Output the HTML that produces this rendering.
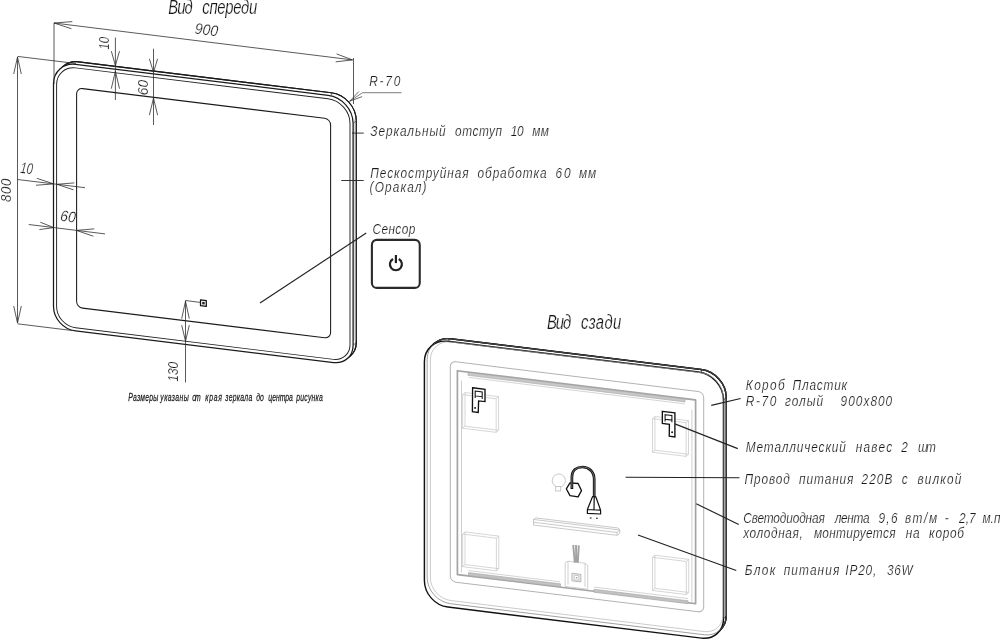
<!DOCTYPE html>
<html><head><meta charset="utf-8"><title>Mirror drawing</title>
<style>
html,body{margin:0;padding:0;background:#fff;}
body{width:1000px;height:640px;overflow:hidden;}
svg{display:block;will-change:transform;filter:grayscale(1);}
text{font-family:"Liberation Sans",sans-serif;font-style:italic;}
</style></head><body>
<svg width="1000" height="640" viewBox="0 0 1000 640">
<rect width="1000" height="640" fill="#fff"/>
<g transform="matrix(1 0.1225 0 1 0 0)" fill="none" stroke-linejoin="round">
<path d="M78.65 52.20H331.25A25 25 0 0 1 356.25 77.20V299.10A19.5 19.5 0 0 1 336.75 318.60H78.65A22 22 0 0 1 56.65 296.60V74.20A22 22 0 0 1 78.65 52.20Z" fill="#fff" stroke="#1a1a1a" stroke-width="1.15"/>
<rect x="353.1" y="76" width="3.15" height="221" fill="#dcdcdc" stroke="none"/>
<path d="M78.65 52.20H331.25A25 25 0 0 1 356.25 77.20V299.10A19.5 19.5 0 0 1 336.75 318.60H78.65A22 22 0 0 1 56.65 296.60V74.20A22 22 0 0 1 78.65 52.20Z" stroke="#1a1a1a" stroke-width="1.15"/>
<path d="M75.50 55.10H328.10A25 25 0 0 1 353.10 80.10V302.20A19.5 19.5 0 0 1 333.60 321.70H75.50A22 22 0 0 1 53.50 299.70V77.10A22 22 0 0 1 75.50 55.10Z" fill="#fff" stroke="#1a1a1a" stroke-width="1.25"/>
<path d="M331.3 52.2L331.3 55.1M353.1 80.1L356.25 77.2M353.1 302L356.25 299" stroke="#333" stroke-width="0.7"/>
<path d="M75.60 58.60H328.00A22 22 0 0 1 350.00 80.60V302.00A16.5 16.5 0 0 1 333.50 318.50H75.60A19 19 0 0 1 56.60 299.50V77.60A19 19 0 0 1 75.60 58.60Z" stroke="#222" stroke-width="0.95"/>
<path d="M82.60 78.50H324.60A6 6 0 0 1 330.60 84.50V292.00A6 6 0 0 1 324.60 298.00H82.60A6 6 0 0 1 76.60 292.00V84.50A6 6 0 0 1 82.60 78.50Z" stroke="#1a1a1a" stroke-width="1.05"/>
</g>
<line x1="54" y1="23" x2="54" y2="84" stroke="#303030" stroke-width="0.8"/>
<line x1="353.5" y1="58" x2="353.5" y2="104" stroke="#303030" stroke-width="0.8"/>
<line x1="54" y1="23" x2="352.5" y2="59.9" stroke="#303030" stroke-width="0.8"/>
<path d="M72.30 21.62L54.00 23.00L71.43 28.76" fill="none" stroke="#303030" stroke-width="0.8"/>
<path d="M335.64 61.86L352.50 59.90L336.61 53.92" fill="none" stroke="#303030" stroke-width="0.8"/>
<text transform="translate(194.3 33.6) rotate(7) scale(0.9 1)" font-size="15.4" fill="#161616" stroke="#fff" stroke-width="0.22" textLength="25.78" lengthAdjust="spacing">900</text>
<line x1="17.5" y1="57" x2="17.5" y2="323" stroke="#303030" stroke-width="0.8"/>
<line x1="17.5" y1="56.4" x2="76" y2="63.5" stroke="#303030" stroke-width="0.8"/>
<line x1="17.5" y1="323.8" x2="72" y2="330.5" stroke="#303030" stroke-width="0.8"/>
<path d="M21.30 74.00L17.50 57.00L13.70 74.00" fill="none" stroke="#303030" stroke-width="0.8"/>
<path d="M13.70 306.00L17.50 323.00L21.30 306.00" fill="none" stroke="#303030" stroke-width="0.8"/>
<text transform="translate(11.2 201.9) rotate(-90) scale(0.86 1)" font-size="15.4" fill="#161616" stroke="#fff" stroke-width="0.22" textLength="26.98" lengthAdjust="spacing">800</text>
<line x1="115.4" y1="37.5" x2="115.4" y2="100" stroke="#303030" stroke-width="0.8"/>
<path d="M111.30 51.10L115.40 65.60L119.50 51.10" fill="none" stroke="#303030" stroke-width="0.8"/>
<path d="M119.50 88.70L115.40 71.20L111.30 88.70" fill="none" stroke="#303030" stroke-width="0.8"/>
<text transform="translate(108.7 49.6) rotate(-90) scale(0.74 1)" font-size="15.4" fill="#161616" stroke="#fff" stroke-width="0.22">10</text>
<line x1="153.5" y1="48.75" x2="153.5" y2="125" stroke="#303030" stroke-width="0.8"/>
<path d="M149.40 58.80L153.50 72.30L157.60 58.80" fill="none" stroke="#303030" stroke-width="0.8"/>
<path d="M157.60 115.10L153.50 98.10L149.40 115.10" fill="none" stroke="#303030" stroke-width="0.8"/>
<text transform="translate(147.6 95.3) rotate(-90) scale(0.9 1)" font-size="15.4" fill="#161616" stroke="#fff" stroke-width="0.22" textLength="17.22" lengthAdjust="spacing">60</text>
<line x1="17.5" y1="179.5" x2="85" y2="187.7" stroke="#303030" stroke-width="0.8"/>
<path d="M35.95 185.25L53.75 183.90L36.81 178.30" fill="none" stroke="#303030" stroke-width="0.8"/>
<path d="M74.30 182.89L57.00 184.30L73.45 189.84" fill="none" stroke="#303030" stroke-width="0.8"/>
<text transform="translate(19.8 172.7) rotate(7) scale(0.74 1)" font-size="15.4" fill="#161616" stroke="#fff" stroke-width="0.22">10</text>
<line x1="28.75" y1="224.5" x2="105" y2="233.9" stroke="#303030" stroke-width="0.8"/>
<path d="M39.40 229.57L53.75 227.60L40.30 222.23" fill="none" stroke="#303030" stroke-width="0.8"/>
<path d="M94.22 228.86L76.40 230.40L93.32 236.20" fill="none" stroke="#303030" stroke-width="0.8"/>
<text transform="translate(59.8 220.8) rotate(7) scale(0.9 1)" font-size="15.4" fill="#161616" stroke="#fff" stroke-width="0.22" textLength="17.22" lengthAdjust="spacing">60</text>
<line x1="185.5" y1="300.5" x2="185.5" y2="382.5" stroke="#303030" stroke-width="0.8"/>
<line x1="185.5" y1="300.5" x2="200" y2="302.4" stroke="#303030" stroke-width="0.8"/>
<path d="M200.5 299.9L206.3 300.6V306.4L200.5 305.7Z" fill="#fff" stroke="#111" stroke-width="1.25" stroke-linejoin="round"/>
<rect x="202.2" y="301.9" width="2.5" height="2.5" fill="#222"/>
<path d="M189.30 318.70L185.50 301.20L181.70 318.70" fill="none" stroke="#303030" stroke-width="0.8"/>
<path d="M181.70 325.20L185.50 341.20L189.30 325.20" fill="none" stroke="#303030" stroke-width="0.8"/>
<text transform="translate(178 381.6) rotate(-90) scale(0.77 1)" font-size="15.4" fill="#161616" stroke="#fff" stroke-width="0.22">130</text>
<text transform="translate(128.3 400.8) scale(0.6 1)" font-size="11.4" fill="#1c1c1c" stroke="#1c1c1c" stroke-width="0.25" textLength="50.00" lengthAdjust="spacing">Размеры</text><text transform="translate(160.3 400.8) scale(0.6 1)" font-size="11.4" fill="#1c1c1c" stroke="#1c1c1c" stroke-width="0.25" textLength="47.50" lengthAdjust="spacing">указаны</text><text transform="translate(192.3 400.8) scale(0.6 1)" font-size="11.4" fill="#1c1c1c" stroke="#1c1c1c" stroke-width="0.25" textLength="14.17" lengthAdjust="spacing">от</text><text transform="translate(205.3 400.8) scale(0.6 1)" font-size="11.4" fill="#1c1c1c" stroke="#1c1c1c" stroke-width="0.25" textLength="27.50" lengthAdjust="spacing">края</text><text transform="translate(225.3 400.8) scale(0.6 1)" font-size="11.4" fill="#1c1c1c" stroke="#1c1c1c" stroke-width="0.25" textLength="45.00" lengthAdjust="spacing">зеркала</text><text transform="translate(256.3 400.8) scale(0.6 1)" font-size="11.4" fill="#1c1c1c" stroke="#1c1c1c" stroke-width="0.25" textLength="12.50" lengthAdjust="spacing">до</text><text transform="translate(268.3 400.8) scale(0.6 1)" font-size="11.4" fill="#1c1c1c" stroke="#1c1c1c" stroke-width="0.25" textLength="40.83" lengthAdjust="spacing">центра</text><text transform="translate(296.3 400.8) scale(0.6 1)" font-size="11.4" fill="#1c1c1c" stroke="#1c1c1c" stroke-width="0.25" textLength="44.17" lengthAdjust="spacing">рисунка</text>
<line x1="362.5" y1="92.7" x2="401.5" y2="92.7" stroke="#444" stroke-width="0.7"/>
<line x1="362.5" y1="92.7" x2="349.6" y2="101.3" stroke="#444" stroke-width="0.7"/>
<path d="M358.79 91.63L349.60 101.30L362.10 96.63" fill="none" stroke="#444" stroke-width="0.8"/>
<line x1="352" y1="133.1" x2="363.75" y2="133.1" stroke="#222" stroke-width="0.9"/>
<line x1="341.25" y1="180.5" x2="363.75" y2="180.5" stroke="#222" stroke-width="0.9"/>
<line x1="366.25" y1="233" x2="260" y2="303" stroke="#222" stroke-width="1.15"/>
<rect x="371.9" y="239.9" width="47.85" height="48" rx="5" fill="#fff" stroke="#2a2a2a" stroke-width="2.1"/>
<path d="M393.0 259.0 A6 6 0 1 0 398.8 259.0" fill="none" stroke="#222" stroke-width="2.2"/>
<line x1="395.9" y1="255" x2="395.9" y2="263.1" stroke="#222" stroke-width="2.2"/>
<text transform="translate(168.3 13.8) scale(0.72 1)" font-size="20.6" fill="#161616" stroke="#fff" stroke-width="0.22" textLength="33.89" lengthAdjust="spacing">Вид</text><text transform="translate(202.3 13.8) scale(0.72 1)" font-size="20.6" fill="#161616" stroke="#fff" stroke-width="0.22" textLength="76.39" lengthAdjust="spacing">спереди</text>
<text transform="translate(369.3 85.5) scale(0.78 1)" font-size="15.2" fill="#161616" stroke="#fff" stroke-width="0.22" textLength="39.74" lengthAdjust="spacing">R-70</text>
<text transform="translate(370.3 136.20000000000002) scale(0.78 1)" font-size="15.2" fill="#161616" stroke="#fff" stroke-width="0.22" textLength="96.67" lengthAdjust="spacing">Зеркальный</text><text transform="translate(455.0 136.20000000000002) scale(0.78 1)" font-size="15.2" fill="#161616" stroke="#fff" stroke-width="0.22" textLength="60.38" lengthAdjust="spacing">отступ</text><text transform="translate(510.7 136.20000000000002) scale(0.78 1)" font-size="15.2" fill="#161616" stroke="#fff" stroke-width="0.22" textLength="16.67" lengthAdjust="spacing">10</text><text transform="translate(532.3 136.20000000000002) scale(0.78 1)" font-size="15.2" fill="#161616" stroke="#fff" stroke-width="0.22" textLength="21.28" lengthAdjust="spacing">мм</text>
<text transform="translate(370.3 178.0) scale(0.78 1)" font-size="15.2" fill="#161616" stroke="#fff" stroke-width="0.22" textLength="125.90" lengthAdjust="spacing">Пескоструйная</text><text transform="translate(477.6 178.0) scale(0.78 1)" font-size="15.2" fill="#161616" stroke="#fff" stroke-width="0.22" textLength="88.33" lengthAdjust="spacing">обработка</text><text transform="translate(555.6 178.0) scale(0.78 1)" font-size="15.2" fill="#161616" stroke="#fff" stroke-width="0.22" textLength="19.10" lengthAdjust="spacing">60</text><text transform="translate(579.1 178.0) scale(0.78 1)" font-size="15.2" fill="#161616" stroke="#fff" stroke-width="0.22" textLength="21.92" lengthAdjust="spacing">мм</text>
<text transform="translate(369.6 192.0) scale(0.78 1)" font-size="15.2" fill="#161616" stroke="#fff" stroke-width="0.22" textLength="72.95" lengthAdjust="spacing">(Оракал)</text>
<text transform="translate(372.4 233.55) scale(0.78 1)" font-size="15.2" fill="#161616" stroke="#fff" stroke-width="0.22" textLength="55.00" lengthAdjust="spacing">Сенсор</text>
<g transform="matrix(1 0.1225 0 1 0 0)" fill="none" stroke-linejoin="round">
<path d="M450.65 283.60H701.25A25 25 0 0 1 726.25 308.60V526.50A22 22 0 0 1 704.25 548.50H450.65A23.5 23.5 0 0 1 427.15 525.00V307.10A23.5 23.5 0 0 1 450.65 283.60Z" fill="#fff" stroke="#111" stroke-width="1.45"/>
<rect x="723.5" y="309" width="2.75" height="218" fill="#d4d4d4" stroke="none"/>
<path d="M450.65 283.60H701.25A25 25 0 0 1 726.25 308.60V526.50A22 22 0 0 1 704.25 548.50H450.65A23.5 23.5 0 0 1 427.15 525.00V307.10A23.5 23.5 0 0 1 450.65 283.60Z" stroke="#111" stroke-width="1.45"/>
<path d="M447.90 286.45H698.50A25 25 0 0 1 723.50 311.45V530.20A22 22 0 0 1 701.50 552.20H447.90A23.5 23.5 0 0 1 424.40 528.70V309.95A23.5 23.5 0 0 1 447.90 286.45Z" fill="#fff" stroke="#111" stroke-width="1.45"/>
<path d="M450.65 283.60H701.25A25 25 0 0 1 726.25 308.60V526.50A22 22 0 0 1 704.25 548.50H450.65A23.5 23.5 0 0 1 427.15 525.00V307.10A23.5 23.5 0 0 1 450.65 283.60Z" stroke="#666" stroke-width="0.6"/>
<path d="M450.70 286.80H701.10A22 22 0 0 1 723.10 308.80V526.30A19 19 0 0 1 704.10 545.30H450.70A20.3 20.3 0 0 1 430.40 525.00V307.10A20.3 20.3 0 0 1 450.70 286.80Z" stroke="#aaa" stroke-width="0.6"/>
<path d="M449 283.6L449 286.45M701.3 283.6L701.3 286.45M723.5 311.5L726.25 308.5M723.5 530L726.25 527" stroke="#222" stroke-width="0.7"/>
<path d="M455.80 305.90H698.20A5.5 5.5 0 0 1 703.70 311.40V520.80A5.5 5.5 0 0 1 698.20 526.30H455.80A5.5 5.5 0 0 1 450.30 520.80V311.40A5.5 5.5 0 0 1 455.80 305.90Z" stroke="#b2b2b2" stroke-width="1.0"/>
<rect x="457.4" y="314.7" width="238.2" height="203.8" stroke="#a4a4a4" stroke-width="1.7"/>
<path d="M461.5 324V516M691.9 325V517" stroke="#c4c4c4" stroke-width="0.8"/>
<rect x="468" y="315.2" width="217" height="2.8" fill="#c9c9c9" stroke="#a6a6a6" stroke-width="0.6"/>
<path d="M469 320H685" stroke="#c4c4c4" stroke-width="0.7"/>
<rect x="468.5" y="515.2" width="92" height="3" fill="#c2c2c2" stroke="#a6a6a6" stroke-width="0.6"/>
<rect x="594" y="516.5" width="94" height="3" fill="#c2c2c2" stroke="#a6a6a6" stroke-width="0.6"/>
<path d="M468.5 513.2H560M594 514.3H688" stroke="#c4c4c4" stroke-width="0.7"/>
<path d="M462.6 338.0h33.6v33.6h-33.6z M465.0 335.6h33.6v33.6h-33.6z M462.6 338.0l2.4 -2.4M496.20000000000005 338.0l2.4 -2.4M496.20000000000005 371.6l2.4 -2.4M462.6 371.6l2.4 -2.4" stroke="#c6c6c6" stroke-width="0.7"/>
<path d="M652.5 338.7h33.6v33.6h-33.6z M654.9 336.3h33.6v33.6h-33.6z M652.5 338.7l2.4 -2.4M686.1 338.7l2.4 -2.4M686.1 372.3l2.4 -2.4M652.5 372.3l2.4 -2.4" stroke="#c6c6c6" stroke-width="0.7"/>
<path d="M462.6 477.4h33.800000000000004v32.6h-33.800000000000004z M465.0 475.0h33.800000000000004v32.6h-33.800000000000004z M462.6 477.4l2.4 -2.4M496.40000000000003 477.4l2.4 -2.4M496.40000000000003 510.0l2.4 -2.4M462.6 510.0l2.4 -2.4" stroke="#c6c6c6" stroke-width="0.7"/>
<path d="M652.5 477.4h33.800000000000004v33.1h-33.800000000000004z M654.9 475.0h33.800000000000004v33.1h-33.800000000000004z M652.5 477.4l2.4 -2.4M686.3000000000001 477.4l2.4 -2.4M686.3000000000001 510.5l2.4 -2.4M652.5 510.5l2.4 -2.4" stroke="#c6c6c6" stroke-width="0.7"/>
<path d="M533.5 454.1H619.8V457.5L617 459.7H533.5Z M533.5 454.1L535.8 452.3H618.2L619.8 454.1 M533.5 456.9H617V459.7 M617 456.9L619.8 454.1" stroke="#b4b4b4" stroke-width="0.7" fill="#fff"/>
<path d="M565.2 493.6L568 491.6H585L587.7 493.6V517.2H565.2Z M568 491.6V515 M585 491.6V515" stroke="#bdbdbd" stroke-width="0.7" fill="#fff"/>
<rect x="571.9" y="503.2" width="9" height="7.6" stroke="#aaa" stroke-width="0.8" fill="#eee"/>
<rect x="574.2" y="504.8" width="4.6" height="4.6" stroke="#aaa" stroke-width="0.6" fill="#fff"/>
<rect x="575.9" y="506.4" width="1.3" height="1.3" fill="#999"/>
</g>
<path d="M573.2 545L574.8 562.6M576 545L576.3 562.6M578.8 545.4L577.8 562.6" stroke="#a2a2a2" stroke-width="1.9" fill="none"/>
<circle cx="558.8" cy="480.6" r="6.6" fill="#fff" stroke="#bbb" stroke-width="0.8"/>
<rect x="555.7" y="486.4" width="5" height="4.6" fill="#fff" stroke="#bbb" stroke-width="0.8"/>
<path d="M566.3 488.8L570 482.8L578.1 483.5L581.5 490.6L578.1 496.9L570 495.6Z" fill="none" stroke="#111" stroke-width="1.3" stroke-linejoin="round"/>
<path d="M571.9 489V477C571.9 470 577 467 582.5 467C589 467 594 471.5 594.2 479V497" fill="none" stroke="#111" stroke-width="2.7" stroke-linecap="butt"/>
<path d="M571.9 488V477C571.9 470 577 467 582.5 467C589 467 594 471.5 594.2 479V497" fill="none" stroke="#777" stroke-width="0.9"/>
<path d="M592.6 496.5L587.4 509.5V513.4L600.6 514V510.2L595.8 496.8Z M587.4 509.5L600.6 510.2 M594.2 497L594 509.8" fill="none" stroke="#111" stroke-width="1.2" stroke-linejoin="round"/>
<path d="M589.8 518h1.8M596 518.2h1.8" stroke="#111" stroke-width="1.1"/>
<path d="M472.6 387.75L485 389.25L485 401.6L478.6 400.9L478.25 412.5L472.4 411.6Z" fill="#fff" stroke="#111" stroke-width="1.35" stroke-linejoin="miter"/><path d="M475.2 391.1L482.2 391.96L482.2 396.76L475.2 395.9Z M475.2 395.9v2.2 M482.2 396.76v2.2" fill="#fff" stroke="#111" stroke-width="1.05"/><circle cx="475.1" cy="407.9" r="0.95" fill="#111"/>
<path d="M662.35 411.35L674.9 412.85L674.9 437L669.25 436.25L669.4 424.25L662.35 423.5Z" fill="#fff" stroke="#111" stroke-width="1.35" stroke-linejoin="miter"/><path d="M665.1 414.65L671.9 415.48L671.9 420.13L665.1 419.3Z M665.1 419.3v2.2 M671.9 420.13v2.2" fill="#fff" stroke="#111" stroke-width="1.05"/><circle cx="672.1" cy="432.3" r="0.95" fill="#111"/>
<line x1="711.25" y1="405.4" x2="740.6" y2="398.5" stroke="#222" stroke-width="1.15"/>
<line x1="674.9" y1="423.9" x2="737.8" y2="448.6" stroke="#222" stroke-width="1.15"/>
<line x1="625.6" y1="477.2" x2="739.5" y2="477.8" stroke="#222" stroke-width="1.15"/>
<line x1="696.25" y1="503.75" x2="738.75" y2="524.5" stroke="#222" stroke-width="1.15"/>
<line x1="638" y1="535" x2="736.25" y2="570.5" stroke="#222" stroke-width="1.15"/>
<text transform="translate(546.9 328.8) scale(0.72 1)" font-size="20.6" fill="#161616" stroke="#fff" stroke-width="0.22" textLength="33.89" lengthAdjust="spacing">Вид</text><text transform="translate(580.9 328.8) scale(0.72 1)" font-size="20.6" fill="#161616" stroke="#fff" stroke-width="0.22" textLength="56.11" lengthAdjust="spacing">сзади</text>
<text transform="translate(745.8 390.40000000000003) scale(0.78 1)" font-size="15.2" fill="#161616" stroke="#fff" stroke-width="0.22" textLength="49.87" lengthAdjust="spacing">Короб</text><text transform="translate(792.6 390.40000000000003) scale(0.78 1)" font-size="15.2" fill="#161616" stroke="#fff" stroke-width="0.22" textLength="69.87" lengthAdjust="spacing">Пластик</text>
<text transform="translate(745.8 405.7) scale(0.78 1)" font-size="15.2" fill="#161616" stroke="#fff" stroke-width="0.22" textLength="39.10" lengthAdjust="spacing">R-70</text><text transform="translate(784.9 405.7) scale(0.78 1)" font-size="15.2" fill="#161616" stroke="#fff" stroke-width="0.22" textLength="48.97" lengthAdjust="spacing">голый</text><text transform="translate(840.6 405.7) scale(0.78 1)" font-size="15.2" fill="#161616" stroke="#fff" stroke-width="0.22" textLength="66.15" lengthAdjust="spacing">900x800</text>
<text transform="translate(745.8 452.3) scale(0.78 1)" font-size="15.2" fill="#161616" stroke="#fff" stroke-width="0.22" textLength="128.33" lengthAdjust="spacing">Металлический</text><text transform="translate(855.7 452.3) scale(0.78 1)" font-size="15.2" fill="#161616" stroke="#fff" stroke-width="0.22" textLength="46.79" lengthAdjust="spacing">навес</text><text transform="translate(901.3 452.3) scale(0.78 1)" font-size="15.2" fill="#161616" stroke="#fff" stroke-width="0.22" textLength="10.51" lengthAdjust="spacing">2</text><text transform="translate(918.1 452.3) scale(0.78 1)" font-size="15.2" fill="#161616" stroke="#fff" stroke-width="0.22" textLength="22.82" lengthAdjust="spacing">шт</text>
<text transform="translate(744.5 484.2) scale(0.78 1)" font-size="15.2" fill="#161616" stroke="#fff" stroke-width="0.22" textLength="57.95" lengthAdjust="spacing">Провод</text><text transform="translate(799.1 484.2) scale(0.78 1)" font-size="15.2" fill="#161616" stroke="#fff" stroke-width="0.22" textLength="69.62" lengthAdjust="spacing">питания</text><text transform="translate(861.5 484.2) scale(0.78 1)" font-size="15.2" fill="#161616" stroke="#fff" stroke-width="0.22" textLength="39.62" lengthAdjust="spacing">220В</text><text transform="translate(901.8 484.2) scale(0.78 1)" font-size="15.2" fill="#161616" stroke="#fff" stroke-width="0.22" textLength="7.95" lengthAdjust="spacing">с</text><text transform="translate(917.4 484.2) scale(0.78 1)" font-size="15.2" fill="#161616" stroke="#fff" stroke-width="0.22" textLength="56.28" lengthAdjust="spacing">вилкой</text>
<text transform="translate(743.2 523.4) scale(0.78 1)" font-size="15.2" fill="#161616" stroke="#fff" stroke-width="0.22" textLength="104.62" lengthAdjust="spacing">Светодиодная</text><text transform="translate(834.7 523.4) scale(0.78 1)" font-size="15.2" fill="#161616" stroke="#fff" stroke-width="0.22" textLength="44.62" lengthAdjust="spacing">лента</text><text transform="translate(878.4 523.4) scale(0.78 1)" font-size="15.2" fill="#161616" stroke="#fff" stroke-width="0.22" textLength="24.62" lengthAdjust="spacing">9,6</text><text transform="translate(904.9 523.4) scale(0.78 1)" font-size="15.2" fill="#161616" stroke="#fff" stroke-width="0.22" textLength="41.28" lengthAdjust="spacing">вт/м</text><text transform="translate(944.7 523.4) scale(0.78 1)" font-size="15.2" fill="#161616" stroke="#fff" stroke-width="0.22" textLength="7.95" lengthAdjust="spacing">-</text><text transform="translate(959.0 523.4) scale(0.78 1)" font-size="15.2" fill="#161616" stroke="#fff" stroke-width="0.22" textLength="21.28" lengthAdjust="spacing">2,7</text><text transform="translate(982.4 523.4) scale(0.78 1)" font-size="15.2" fill="#161616" stroke="#fff" stroke-width="0.22" textLength="27.44" lengthAdjust="spacing">м.п.</text>
<text transform="translate(743.2 537.6999999999999) scale(0.78 1)" font-size="15.2" fill="#161616" stroke="#fff" stroke-width="0.22" textLength="76.28" lengthAdjust="spacing">холодная,</text><text transform="translate(813.9 537.6999999999999) scale(0.78 1)" font-size="15.2" fill="#161616" stroke="#fff" stroke-width="0.22" textLength="104.62" lengthAdjust="spacing">монтируется</text><text transform="translate(905.7 537.6999999999999) scale(0.78 1)" font-size="15.2" fill="#161616" stroke="#fff" stroke-width="0.22" textLength="17.95" lengthAdjust="spacing">на</text><text transform="translate(929.1 537.6999999999999) scale(0.78 1)" font-size="15.2" fill="#161616" stroke="#fff" stroke-width="0.22" textLength="44.62" lengthAdjust="spacing">короб</text>
<text transform="translate(744.7 575.4) scale(0.78 1)" font-size="15.2" fill="#161616" stroke="#fff" stroke-width="0.22" textLength="39.23" lengthAdjust="spacing">Блок</text><text transform="translate(783.7 575.4) scale(0.78 1)" font-size="15.2" fill="#161616" stroke="#fff" stroke-width="0.22" textLength="71.28" lengthAdjust="spacing">питания</text><text transform="translate(845.3 575.4) scale(0.78 1)" font-size="15.2" fill="#161616" stroke="#fff" stroke-width="0.22" textLength="39.74" lengthAdjust="spacing">IP20,</text><text transform="translate(886.9 575.4) scale(0.78 1)" font-size="15.2" fill="#161616" stroke="#fff" stroke-width="0.22" textLength="33.08" lengthAdjust="spacing">36W</text>
</svg>
</body></html>
